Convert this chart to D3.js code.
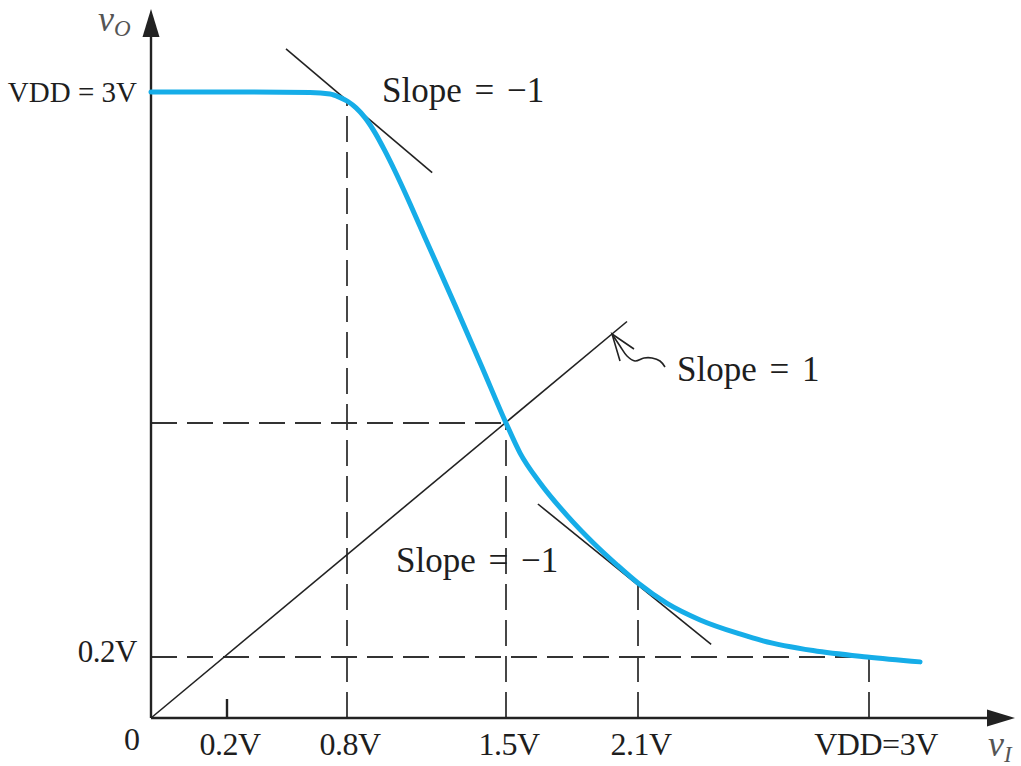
<!DOCTYPE html>
<html>
<head>
<meta charset="utf-8">
<title>Inverter voltage transfer characteristic</title>
<script src="https://cdn.jsdelivr.net/npm/d3@7/dist/d3.min.js"></script>
<style>
  body { margin: 0; padding: 0; background: #fff; }
  text { font-family: "Liberation Serif", "Times New Roman", serif; fill: #1e1e1e; }
  .axis { stroke: #222; stroke-width: 2.4px; fill: none; }
  .guide { stroke: #333; stroke-width: 1.8px; stroke-dasharray: 26,10; fill: none; }
  .thin { stroke: #222; stroke-width: 1.6px; fill: none; }
  .vtc { stroke: #16ade8; stroke-width: 5px; fill: none; stroke-linecap: round; }
</style>
</head>
<body>
<script>
// tick values (volts) and their labels
var xTickValues = [0.2, 0.8, 1.5, 2.1, 3];
var xTickLabels = ["0.2V", "0.8V", "1.5V", "2.1V", "VDD=3V"];
var yTickValues = [0.2, 3];
var yTickLabels = ["0.2V", "VDD = 3V"];

// transfer curve
var vIn  = [0, 0.315, 0.615, 0.715, 0.765, 0.804, 0.840, 0.879, 0.923, 0.967, 1.011,
            1.077, 1.143, 1.276, 1.394, 1.5,
            1.564, 1.655, 1.777, 1.896, 2.005, 2.1, 2.213, 2.342, 2.497, 2.587,
            2.782, 2.992, 3.199];
var vOut = [3.0, 3.0, 2.998, 2.991, 2.975, 2.957, 2.928, 2.884, 2.816, 2.733, 2.642,
            2.495, 2.341, 2.033, 1.754, 1.5,
            1.333, 1.167, 0.987, 0.835, 0.711, 0.611, 0.498, 0.406, 0.328, 0.29,
            0.236, 0.2, 0.184];

// straight lines (end points in volts)
var unityLine   = [[0, 0], [2.05, 1.96]];
var tangentHigh = [[0.495, 3.195], [1.175, 2.635]];
var tangentLow  = [[1.645, 1.05], [2.385, 0.27]];

// dashed guides: vertical drop from each point, horizontal for some
var vGuides = [[0.8, 2.957], [1.5, 1.5], [2.1, 0.611], [3, 0.2]];
var hGuides = [[1.5, 1.5], [3, 0.2]];

var slopeLabels = ["Slope = \u22121", "Slope = 1", "Slope = \u22121"];

// the sketch is not drawn to scale, so the axes are piecewise linear
var xBreaks = [0, 0.2, 0.8, 1.5, 2.1, 3];
var yBreaks = [0, 0.2, 1.5, 3];

var width = 1021, height = 766;
var x = d3.scaleLinear().domain(xBreaks).range([151, 227, 347, 506, 638, 869]);
var y = d3.scaleLinear().domain(yBreaks).range([718, 657, 423, 92]);
var xEnd = 1015, yEnd = 9;

var svg = d3.select("body").append("svg")
    .attr("width", width)
    .attr("height", height);

var line = d3.line()
    .x(function(d) { return x(d[0]); })
    .y(function(d) { return y(d[1]); });

// dashed guides (start at the axes so the dashes line up there)
svg.selectAll(".vguide")
    .data(vGuides)
  .enter().append("path")
    .attr("class", "guide")
    .attr("d", function(d) { return line([[d[0], 0], d]); });
svg.selectAll(".hguide")
    .data(hGuides)
  .enter().append("path")
    .attr("class", "guide")
    .attr("d", function(d) { return line([[0, d[1]], d]); });

// axes with arrow heads
svg.append("path")
    .attr("class", "axis")
    .attr("d", "M" + x(0) + "," + y(0) + "H" + (xEnd - 20) + "M" + x(0) + "," + y(0) + "V" + (yEnd + 20));
svg.append("path")
    .attr("fill", "#222")
    .attr("d", "M" + xEnd + "," + y(0) + "l-28,-8.5v17z");
svg.append("path")
    .attr("fill", "#222")
    .attr("d", "M" + x(0) + "," + yEnd + "l-8.5,28h17z");

// small tick at 0.2V on the input axis
svg.append("line")
    .attr("class", "axis")
    .attr("x1", x(0.2)).attr("x2", x(0.2))
    .attr("y1", y(0)).attr("y2", y(0) - 19);

// slope = 1 line and the two tangents
[unityLine, tangentHigh, tangentLow].forEach(function(seg) {
  svg.append("path").attr("class", "thin").attr("d", line(seg));
});

// transfer curve
var curve = vIn.map(function(v, i) { return [v, vOut[i]]; });
svg.append("path")
    .attr("class", "vtc")
    .attr("d", line.curve(d3.curveMonotoneX)(curve));
line.curve(d3.curveLinear);

// curly arrow pointing at the unity line
var p0 = [x(unityLine[0][0]), y(unityLine[0][1])];
var p1 = [x(unityLine[1][0]), y(unityLine[1][1])];
var t = 0.9685;
var tip = [p0[0] + (p1[0] - p0[0]) * t, p0[1] + (p1[1] - p0[1]) * t];
var curl = [[53, 33], [48, 27], [40, 24], [32, 24], [23, 27], [15, 22], [8, 12], [0, 0]];
var barbs = [[8, 27], [0, 0], [22, 15]];
var rel = d3.line()
    .x(function(d) { return tip[0] + d[0]; })
    .y(function(d) { return tip[1] + d[1]; });
svg.append("path").attr("class", "thin").attr("stroke-width", 2.2)
    .attr("d", rel.curve(d3.curveCatmullRom)(curl));
svg.append("path").attr("class", "thin").attr("stroke-width", 2.6)
    .attr("stroke-linejoin", "miter")
    .attr("d", rel.curve(d3.curveLinear)(barbs));

// tick labels
svg.selectAll(".xlab")
    .data(xTickValues)
  .enter().append("text")
    .attr("x", function(d, i) { return x(d) + (i === xTickValues.length - 1 ? 7 : 3); })
    .attr("y", 755)
    .attr("text-anchor", "middle")
    .attr("font-size", 32)
    .attr("letter-spacing", -0.5)
    .text(function(d, i) { return xTickLabels[i]; });

svg.selectAll(".ylab")
    .data(yTickValues)
  .enter().append("text")
    .attr("x", 137)
    .attr("y", function(d) { return y(d) + (d > 1 ? 10 : 5); })
    .attr("text-anchor", "end")
    .attr("font-size", function(d) { return d > 1 ? 29 : 31; })
    .attr("letter-spacing", function(d) { return d > 1 ? 0 : -0.5; })
    .text(function(d, i) { return yTickLabels[i]; });

svg.append("text")
    .attr("x", 132).attr("y", 750)
    .attr("text-anchor", "middle")
    .attr("font-size", 32)
    .text("0");

// axis titles
var vo = svg.append("text").attr("x", 98).attr("y", 31).style("fill", "#555");
vo.append("tspan").attr("font-size", 36).attr("font-style", "italic").text("v");
vo.append("tspan").attr("font-size", 23).attr("font-style", "italic").attr("dy", 5).text("O");

var vi = svg.append("text").attr("x", 988).attr("y", 756).style("fill", "#555");
vi.append("tspan").attr("font-size", 36).attr("font-style", "italic").text("v");
vi.append("tspan").attr("font-size", 23).attr("font-style", "italic").attr("dy", 6).text("I");

// slope annotations
var slopePos = [
  { x: x(0.8) + 35,  y: y(3) + 10 },
  { x: tip[0] + 65,  y: tip[1] + 47 },
  { x: x(1.5) - 110, y: y(0.2) - 85 }
];
svg.selectAll(".slope")
    .data(slopeLabels)
  .enter().append("text")
    .attr("x", function(d, i) { return slopePos[i].x; })
    .attr("y", function(d, i) { return slopePos[i].y; })
    .attr("font-size", 35)
    .attr("word-spacing", 4)
    .text(function(d) { return d; });
</script>
</body>
</html>
